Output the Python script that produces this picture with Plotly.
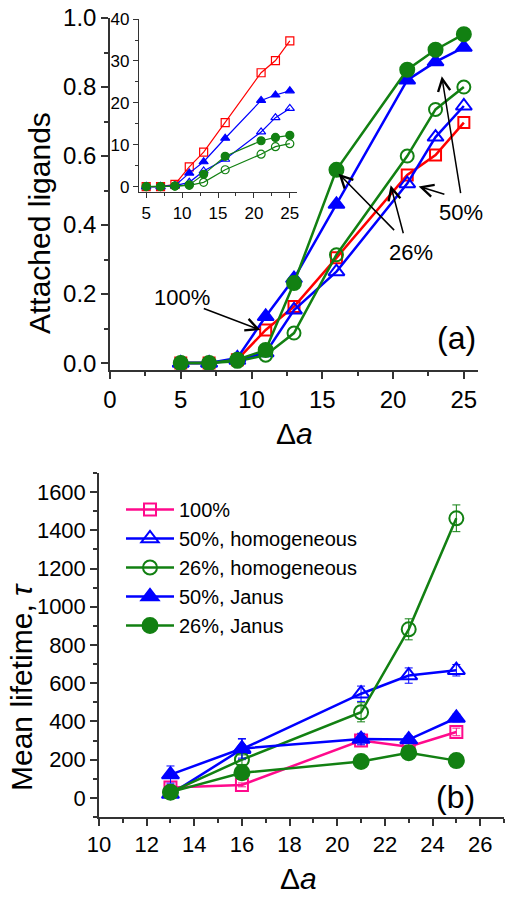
import plotly.graph_objects as go

W, H = 514, 898

# ---------------- data ----------------
da_top = [5, 7, 9, 11, 13, 16, 21, 23, 25]
frac_100 = [0.0, 0.0, 0.01, 0.096, 0.164, 0.305, 0.545, 0.603, 0.697]
frac_50h = [0.0, 0.0, 0.008, 0.03, 0.154, 0.265, 0.52, 0.655, 0.745]
frac_26h = [0.0, 0.0, 0.005, 0.023, 0.087, 0.314, 0.60, 0.735, 0.80]
frac_50j = [0.0, 0.0, 0.015, 0.135, 0.245, 0.46, 0.82, 0.873, 0.915]
frac_26j = [0.0, 0.0, 0.01, 0.038, 0.232, 0.56, 0.85, 0.908, 0.953]

num_100 = [0.1, 0.1, 0.6, 4.8, 8.3, 15.3, 27.2, 30.1, 34.8]
num_50j = [0.1, 0.1, 0.3, 3.3, 6.0, 11.6, 20.6, 21.9, 22.9]
num_50h = [0.1, 0.1, 0.3, 1.1, 3.8, 6.6, 13.1, 16.5, 18.7]
num_26j = [0.1, 0.1, 0.2, 0.5, 3.0, 7.3, 11.0, 11.8, 12.3]
num_26h = [0.1, 0.1, 0.2, 0.4, 1.1, 4.1, 7.8, 9.6, 10.3]

da_bot = [13, 16, 21, 23, 25]
tau_100 = [55, 68, 300, 268, 345]
tau_50h = [20, 255, 545, 640, 668]
tau_26h = [30, 200, 448, 882, 1463]
tau_50j = [122, 258, 308, 305, 418]
tau_26j = [30, 131, 190, 236, 195]
err_100 = [15, 10, 30, 20, 20]
err_50h = [10, 55, 40, 40, 30]
err_26h = [10, 25, 50, 55, 70]
err_50j = [45, 50, 30, 20, 20]
err_26j = [8, 10, 10, 10, 10]

legend_names = ["100%", "50%, homogeneous", "26%, homogeneous", "50%, Janus", "26%, Janus"]

# annotation text positions (x, y, text) and arrows (tip_x, tip_y, tail_x, tail_y) in data units of panel (a)
labels_a = [(5.1, 0.189, "100%"), (21.25, 0.320, "26%"), (24.79, 0.436, "50%")]
arrows_a = [(10.62, 0.096, 6.52, 0.160),
            (16.15, 0.549, 20.18, 0.381),
            (19.83, 0.515, 20.75, 0.372),
            (23.44, 0.831, 24.79, 0.488),
            (21.81, 0.512, 23.73, 0.488)]

RED = "#FF0000"
PINK = "#FF0A8C"
BLUE = "#0000FF"
GREEN = "#128012"
AX = "#333333"
FONT = "Liberation Sans, Arial, sans-serif"


def fx(px):
    return px / W


def fy(py):
    return 1 - py / H


fig = go.Figure()

# ---------- panel (a) main ----------
main_series = [
    (frac_100, RED, "square-open", 11),
    (frac_50h, BLUE, "triangle-up-open", 14),
    (frac_26h, GREEN, "circle-open", 13),
    (frac_50j, BLUE, "triangle-up", 14),
    (frac_26j, GREEN, "circle", 14),
]
for ys, col, sym, sz in main_series:
    fig.add_trace(go.Scatter(
        x=da_top, y=ys, mode="lines+markers", xaxis="x", yaxis="y",
        line=dict(color=col, width=2.5),
        marker=dict(symbol=sym, size=sz, color=col, line=dict(color=col, width=2)),
        showlegend=False))

# ---------- inset ----------
inset_series = [
    (num_100, RED, "square-open", 8),
    (num_50j, BLUE, "triangle-up", 8),
    (num_50h, BLUE, "triangle-up-open", 8),
    (num_26j, GREEN, "circle", 8),
    (num_26h, GREEN, "circle-open", 8),
]
for ys, col, sym, sz in inset_series:
    fig.add_trace(go.Scatter(
        x=da_top, y=ys, mode="lines+markers", xaxis="x2", yaxis="y2",
        line=dict(color=col, width=1.2),
        marker=dict(symbol=sym, size=sz, color=col, line=dict(color=col, width=1.2)),
        showlegend=False))

# ---------- panel (b) ----------
bot_series = [
    (tau_100, err_100, PINK, "square-open", 12),
    (tau_50h, err_50h, BLUE, "triangle-up-open", 15),
    (tau_26h, err_26h, GREEN, "circle-open", 14),
    (tau_50j, err_50j, BLUE, "triangle-up", 15),
    (tau_26j, err_26j, GREEN, "circle", 15),
]
for (ys, er, col, sym, sz), name in zip(bot_series, legend_names):
    fig.add_trace(go.Scatter(
        x=da_bot, y=ys, mode="lines+markers", xaxis="x3", yaxis="y3", name=name,
        line=dict(color=col, width=2.5),
        marker=dict(symbol=sym, size=sz, color=col, line=dict(color=col, width=2)),
        error_y=dict(type="data", array=er, color=col, thickness=1, width=4),
        showlegend=True))


def axis_common(size, lw=1.5):
    return dict(showline=True, linecolor=AX, linewidth=lw, ticks="outside",
                tickcolor=AX, tickwidth=lw, showgrid=False, zeroline=False, automargin=False,
                tickfont=dict(family=FONT, size=size, color="black"))


layout_axes = dict(
    xaxis=dict(domain=[fx(110), fx(478)], range=[0, 26], anchor="y", dtick=5, tick0=0,
               ticklen=7, minor=dict(ticks="outside", dtick=2.5, ticklen=4, tickcolor=AX, tickwidth=1.5),
               **axis_common(24)),
    yaxis=dict(domain=[fy(370), fy(18)], range=[-0.02, 1.0], anchor="x", dtick=0.2, tick0=0,
               tickformat=".1f", ticklen=7,
               minor=dict(ticks="outside", dtick=0.1, ticklen=4, tickcolor=AX, tickwidth=1.5),
               **axis_common(24)),
    xaxis2=dict(domain=[fx(139), fx(297)], range=[4, 26], anchor="y2", dtick=5, tick0=0,
                ticklen=5, minor=dict(ticks="outside", dtick=2.5, ticklen=3, tickcolor=AX, tickwidth=1),
                **axis_common(17, 1.2)),
    yaxis2=dict(domain=[fy(192), fy(19)], range=[-1.2, 40], anchor="x2", dtick=10, tick0=0,
                ticklen=5, minor=dict(ticks="outside", dtick=5, ticklen=3, tickcolor=AX, tickwidth=1),
                **axis_common(17, 1.2)),
    xaxis3=dict(domain=[fx(99), fx(504)], range=[10, 27], anchor="y3", dtick=2, tick0=0,
                ticklen=7, minor=dict(ticks="outside", dtick=1, ticklen=4, tickcolor=AX, tickwidth=1.5),
                **axis_common(22)),
    yaxis3=dict(domain=[fy(817), fy(473)], range=[-100, 1700], anchor="x3", dtick=200, tick0=0,
                ticklen=7, minor=dict(ticks="outside", dtick=100, ticklen=4, tickcolor=AX, tickwidth=1.5),
                **axis_common(22)),
)

annotations = []
tfont = dict(family=FONT, size=30, color="black")
# axis titles
annotations.append(dict(text="Attached ligands", x=fx(39), y=fy(223), xref="paper", yref="paper",
                        textangle=-90, showarrow=False, font=tfont, xanchor="center", yanchor="middle"))
annotations.append(dict(text="Δ<i>a</i>", x=fx(294), y=fy(433), xref="paper", yref="paper",
                        showarrow=False, font=tfont, xanchor="center", yanchor="middle"))
annotations.append(dict(text="Mean lifetime, <i>τ</i>", x=fx(21), y=fy(687), xref="paper", yref="paper",
                        textangle=-90, showarrow=False, font=tfont, xanchor="center", yanchor="middle"))
annotations.append(dict(text="Δ<i>a</i>", x=fx(298), y=fy(878), xref="paper", yref="paper",
                        showarrow=False, font=tfont, xanchor="center", yanchor="middle"))
annotations.append(dict(text="(a)", x=fx(456), y=fy(338), xref="paper", yref="paper",
                        showarrow=False, font=dict(family=FONT, size=32, color="black"),
                        xanchor="center", yanchor="middle"))
annotations.append(dict(text="(b)", x=fx(455), y=fy(797), xref="paper", yref="paper",
                        showarrow=False, font=dict(family=FONT, size=32, color="black"),
                        xanchor="center", yanchor="middle"))
for lx, ly, lt in labels_a:
    annotations.append(dict(text=lt, x=lx, y=ly, xref="x", yref="y", showarrow=False,
                            font=dict(family=FONT, size=22, color="black"),
                            xanchor="center", yanchor="middle"))
for tx, ty, sx, sy in arrows_a:
    annotations.append(dict(text="", x=tx, y=ty, ax=sx, ay=sy, xref="x", yref="y",
                            axref="x", ayref="y", showarrow=True, arrowhead=5, arrowsize=1.6,
                            arrowwidth=1.5, arrowcolor="black", standoff=0, startstandoff=0))

fig.update_layout(
    width=W, height=H, margin=dict(l=0, r=0, t=0, b=0, autoexpand=False),
    paper_bgcolor="white", plot_bgcolor="white",
    font=dict(family=FONT, color="black"),
    legend=dict(x=fx(121), y=fy(490), xanchor="left", yanchor="top",
                font=dict(family=FONT, size=20, color="black"),
                bgcolor="rgba(0,0,0,0)", itemwidth=48, tracegroupgap=0),
    annotations=annotations,
    **layout_axes,
)

fig.write_html("out.html", config={"displayModeBar": False},
               post_script="document.body.style.margin='0';document.body.style.overflow='hidden';")
